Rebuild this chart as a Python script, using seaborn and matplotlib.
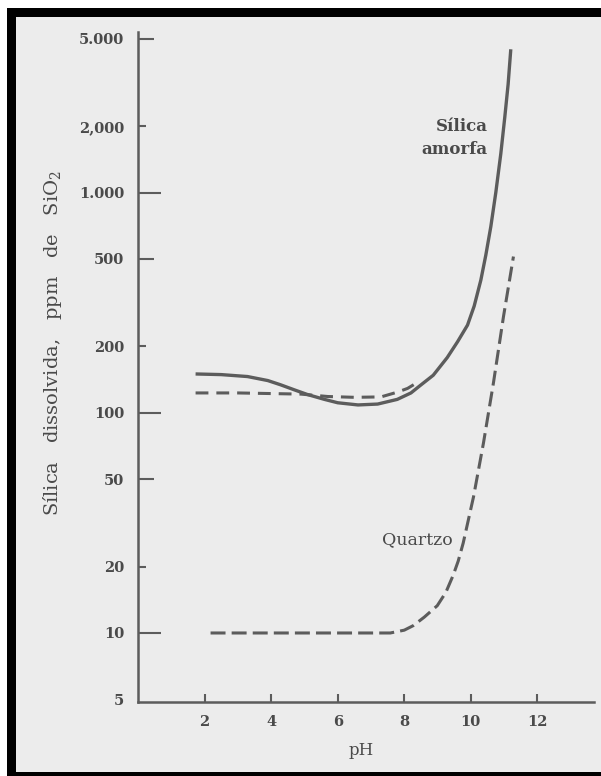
import matplotlib
matplotlib.use("Agg")
import matplotlib.pyplot as plt
from matplotlib.patches import Rectangle
from matplotlib.ticker import NullLocator
import seaborn as sns

# ---------------- data ----------------
amorfa_ph = [1.73, 2.5, 3.29, 3.9, 4.28, 4.7, 5.09, 5.6, 6.0, 6.61, 7.2, 7.79,
             8.2, 8.48, 8.87, 9.29, 9.6, 9.9, 10.1, 10.3, 10.45, 10.6,
             10.75, 10.9, 11.02, 11.12, 11.2]
amorfa_ppm = [150, 149, 146, 140, 134, 127, 121, 115, 111, 108.5, 109.5, 115,
              123, 133, 148, 178, 210, 250, 305, 400, 520, 700,
              1000, 1500, 2200, 3100, 4470]

amorfa_tracejada_ph = [1.73, 3.0, 4.9, 5.7, 6.5, 7.3, 7.79, 8.1, 8.35]
amorfa_tracejada_ppm = [123, 123, 121.5, 118.5, 117.5, 118, 124, 129, 136]

quartzo_ph = [2.18, 4.0, 6.0, 7.58, 8.0, 8.27, 8.6, 8.99, 9.25, 9.47, 9.62,
              9.77, 10.08, 10.38, 10.68, 10.98, 11.28]
quartzo_ppm = [10, 10, 10, 10, 10.3, 10.8, 11.8, 13.3, 15.3, 18.3, 21.2,
               25.6, 41.5, 73, 137, 273, 512]

ytick_values = [5, 10, 20, 50, 100, 200, 500, 1000, 2000, 5000]
ytick_labels = ["5", "10", "20", "50", "100", "200", "500", "1.000", "2,000", "5.000"]
xtick_values = [2, 4, 6, 8, 10, 12]
xtick_labels = ["2", "4", "6", "8", "10", "12"]

# ---------------- style ----------------
BG = "#ececec"
INK = "#5c5c5c"
TXT = "#4a4a4a"

sns.set_style("ticks")
plt.rcParams["font.family"] = ["DejaVu Serif"]
plt.rcParams["mathtext.fontset"] = "dejavuserif"

W, H = 601, 776
fig = plt.figure(figsize=(W / 100, H / 100), dpi=100, facecolor="white")

# scanned-page frame: white margin, black border, grey paper
fig.add_artist(Rectangle((7 / W, 0), 1, 1 - 8 / H, transform=fig.transFigure,
                         facecolor="black", edgecolor="none", zorder=-3))
fig.add_artist(Rectangle((16 / W, 4 / H), 1, 1 - 17 / H - 4 / H,
                         transform=fig.transFigure, facecolor=BG,
                         edgecolor="none", zorder=-2))

ax = fig.add_axes([138 / W, 1 - 702 / H, (594 - 138) / W, (702 - 32) / H])
ax.set_facecolor("none")
ax.set_yscale("log")

sns.lineplot(x=amorfa_ph, y=amorfa_ppm, ax=ax, color=INK, linewidth=2.4,
             sort=False, estimator=None, solid_capstyle="butt",
             solid_joinstyle="round")
sns.lineplot(x=amorfa_tracejada_ph, y=amorfa_tracejada_ppm, ax=ax, color=INK,
             linewidth=2.2, sort=False, estimator=None,
             linestyle=(0, (4.2, 2.6)), dash_capstyle="butt")
sns.lineplot(x=quartzo_ph, y=quartzo_ppm, ax=ax, color=INK, linewidth=2.2,
             sort=False, estimator=None,
             linestyle=(0, (4.9, 2.0)), dash_capstyle="butt")

ax.set_xlim(0, 13.7)
ax.set_ylim(4.86, 5355)

for s in ["top", "right"]:
    ax.spines[s].set_visible(False)
for s in ["left", "bottom"]:
    ax.spines[s].set_color(INK)
    ax.spines[s].set_linewidth(1.8)

ax.set_yticks(ytick_values, ytick_labels)
ax.yaxis.set_minor_locator(NullLocator())
ax.set_xticks(xtick_values, xtick_labels)
ax.xaxis.set_minor_locator(NullLocator())

ax.tick_params(axis="both", direction="in", width=1.5, color=INK,
               labelcolor=TXT, labelsize=10.5)
ax.tick_params(axis="y", pad=10)
ax.tick_params(axis="x", length=6, pad=9)
for lab in ax.get_yticklabels() + ax.get_xticklabels():
    lab.set_fontweight("bold")

# tick lengths: decades long, 5s medium, 2s short, bottom "5" none
len_map = {5: 0, 10: 16.5, 20: 5.8, 50: 11.5, 100: 16.5, 200: 5.8,
           500: 11.5, 1000: 16.5, 2000: 5.8, 5000: 11.5}
for v, t in zip(ytick_values, ax.yaxis.get_major_ticks()):
    t.tick1line.set_markersize(len_map[v])

ax.set_xlabel("pH", fontsize=12, color=TXT)
ax.xaxis.set_label_coords(0.49, -0.06)
ax.set_ylabel("Sílica   dissolvida,   ppm   de   SiO$_2$", fontsize=14,
              color=TXT)
ax.yaxis.set_label_coords(-0.163, 0.536)

ax.text(10.5, 1766, "Sílica\namorfa", ha="right", va="center",
        multialignment="right", fontsize=12, fontweight="bold", color=TXT,
        linespacing=1.5)
ax.text(9.47, 26.5, "Quartzo", ha="right", va="center", fontsize=12.5,
        color=TXT)

fig.savefig("out.png", dpi=100, facecolor=fig.get_facecolor())
